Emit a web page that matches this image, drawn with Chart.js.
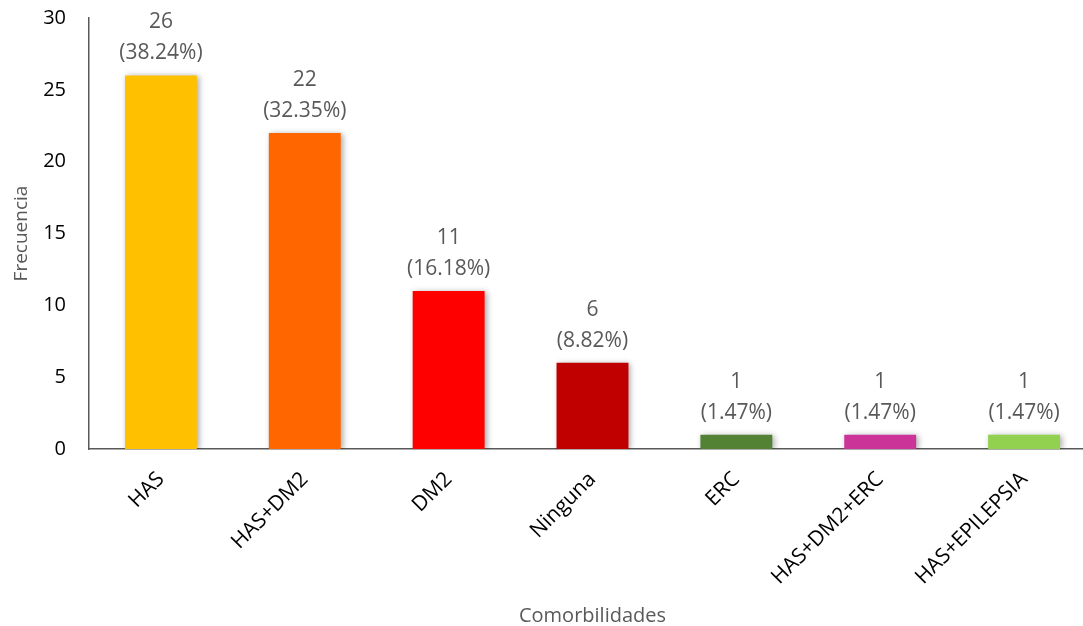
<!DOCTYPE html>
<html>
<head>
<meta charset="utf-8">
<script src="https://cdn.jsdelivr.net/npm/chart.js@4"></script>
<style>
  html, body { margin: 0; padding: 0; background: #fff; overflow: hidden; }
  #wrap { width: 1096px; height: 626px; }
</style>
</head>
<body>
<div id="wrap"><canvas id="chart"></canvas></div>
<script>
// chart data
const categories = ["HAS", "HAS+DM2", "DM2", "Ninguna", "ERC", "HAS+DM2+ERC", "HAS+EPILEPSIA"];
const frequencies = [26, 22, 11, 6, 1, 1, 1];
const percentLabels = ["38.24%", "32.35%", "16.18%", "8.82%", "1.47%", "1.47%", "1.47%"];
const barColors = ["#FFC000", "#FF6600", "#FF0000", "#C00000", "#548235", "#CC3399", "#92D050"];
const yTicks = [0, 5, 10, 15, 20, 25, 30];

const FONT = "'Open Sans', Lato, sans-serif";

// soft shadow behind the bars
const barShadow = {
    id: "barShadow",
    beforeDatasetsDraw(chart) {
        const ctx = chart.ctx;
        ctx.save();
        ctx.shadowColor = "rgba(0,0,0,0.35)";
        ctx.shadowBlur = 6;
        ctx.shadowOffsetX = 2;
        ctx.shadowOffsetY = 1;
    },
    afterDatasetsDraw(chart) {
        chart.ctx.restore();
    }
};

// two line labels above every bar
const barLabels = {
    id: "barLabels",
    afterDraw(chart) {
        const ctx = chart.ctx;
        const meta = chart.getDatasetMeta(0);
        ctx.save();
        ctx.font = "21px " + FONT;
        ctx.fillStyle = "#595959";
        ctx.textAlign = "center";
        ctx.textBaseline = "middle";
        meta.data.forEach((bar, i) => {
            ctx.fillText(String(frequencies[i]), bar.x, bar.y - 53);
            ctx.fillText("(" + percentLabels[i] + ")", bar.x, bar.y - 22);
        });
        ctx.restore();
    }
};

new Chart(document.getElementById("chart"), {
    type: "bar",
    data: {
        labels: categories,
        datasets: [{
            label: "Frecuencia",
            data: frequencies,
            backgroundColor: barColors,
            borderWidth: 0,
            barPercentage: 0.5,
            categoryPercentage: 1.0
        }]
    },
    options: {
        responsive: true,
        maintainAspectRatio: false,
        animation: false,
        layout: { padding: 0 },
        plugins: {
            legend: { display: false },
            tooltip: { enabled: false }
        },
        scales: {
            x: {
                grid: { display: false, drawTicks: false },
                border: { display: true, color: "#595959", width: 1.5 },
                ticks: {
                    color: "#000",
                    font: { family: FONT, size: 21 },
                    maxRotation: 45,
                    minRotation: 45,
                    padding: 18,
                    autoSkip: false
                },
                title: {
                    display: true,
                    text: "Comorbilidades",
                    color: "#595959",
                    font: { family: FONT, size: 20 },
                    padding: { top: 0, bottom: -2 }
                },
                afterFit(scale) { scale.height = 177; }
            },
            y: {
                min: 0,
                max: 30,
                afterBuildTicks(scale) { scale.ticks = yTicks.map(v => ({ value: v })); },
                grid: { display: false, drawTicks: false },
                border: { display: true, color: "#595959", width: 1.5 },
                ticks: {
                    color: "#000",
                    font: { family: FONT, size: 20 },
                    padding: 23
                },
                title: {
                    display: true,
                    text: "Frecuencia",
                    color: "#595959",
                    font: { family: FONT, size: 19 },
                    padding: { top: 10, bottom: 0 }
                },
                afterFit(scale) {
                    scale.width = 89;
                    scale.paddingTop = 18;
                    scale.paddingBottom = 0;
                }
            }
        }
    },
    plugins: [barShadow, barLabels]
});
</script>
</body>
</html>
